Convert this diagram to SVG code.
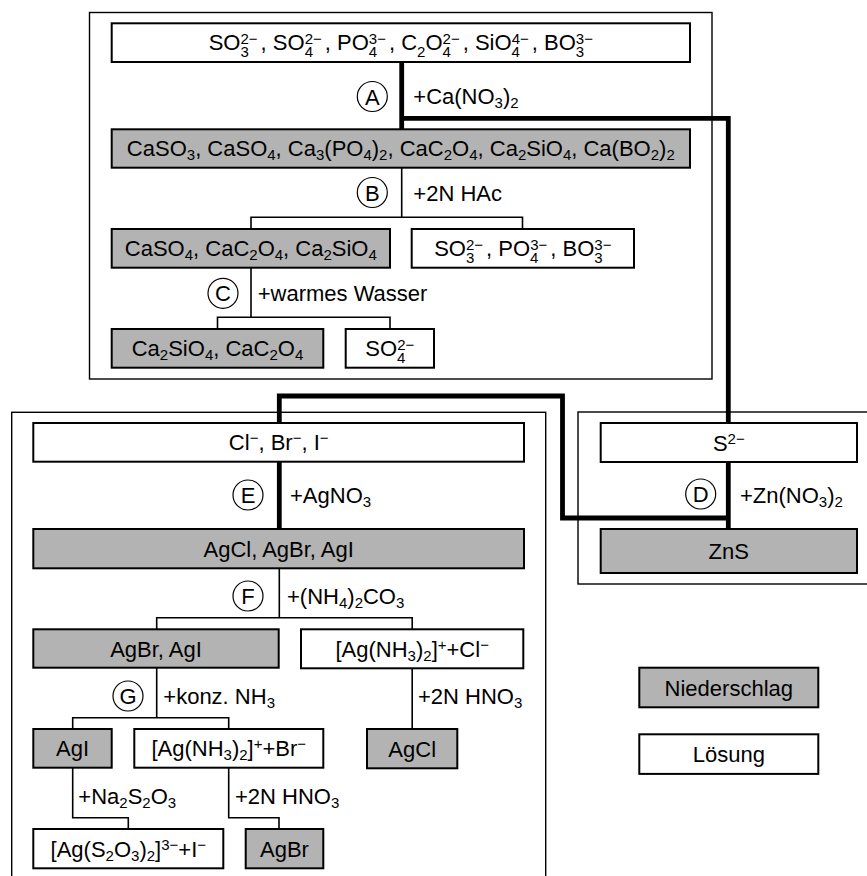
<svg xmlns="http://www.w3.org/2000/svg" width="867" height="876" viewBox="0 0 867 876">
<style>
.frame{fill:none;stroke:#000;stroke-width:1.4}
.sol{fill:#fff;stroke:#000;stroke-width:2}
.ppt{fill:#b3b3b3;stroke:#000;stroke-width:2}
.thin{fill:none;stroke:#000;stroke-width:1.6}
.thick{fill:none;stroke:#000;stroke-width:4.8;stroke-linejoin:miter;stroke-linecap:butt}
.circ{fill:#fff;stroke:#000;stroke-width:1.2}
text{font-family:"Liberation Sans",Arial,sans-serif;font-size:22px;fill:#000}
.m{text-anchor:middle}
.s{font-size:15px}
</style>
<rect width="867" height="876" fill="#fff"/>
<g id="frames">
<rect class="frame" x="89.5" y="12.5" width="622.5" height="366.5"/>
<rect class="frame" x="11.7" y="412.3" width="534" height="480"/>
<rect class="frame" x="578" y="412" width="310" height="172"/>
</g>
<g id="connectors">
<path class="thin" d="M401.7,167.7V217.3 M251,229V217.3H522.5V229"/>
<path class="thin" d="M251,267.7V317.3 M217.5,329V317.3H390V329"/>
<path class="thin" d="M279.3,568.3V617.7 M156.7,629.3V617.7H412.2V629.3"/>
<path class="thin" d="M412.2,668.3V729"/>
<path class="thin" d="M156.7,667.7V717.7 M72.7,729V717.7H228.7V729"/>
<path class="thin" d="M72.7,767.7V817.7H128.3V829"/>
<path class="thin" d="M228.7,767.7V817.7H279V829"/>
<path class="thick" d="M401.7,62V129.3"/>
<path class="thick" d="M401.7,118.3H728.3V423"/>
<path class="thick" d="M728.3,462V529"/>
<path class="thick" d="M728.3,518H562.5V396H279.3V423"/>
<path class="thick" d="M279.3,461.7V529"/>
</g>
<g id="labels">
<circle class="circ" cx="372.3" cy="96.5" r="15"/><text class="m" x="372.3" y="104.5">A</text>
<text x="413.3" y="104">+Ca(NO<tspan class="s" dy="4">3</tspan><tspan dy="-4">)</tspan><tspan class="s" dy="4">2</tspan></text>
<circle class="circ" cx="372.3" cy="192.5" r="15"/><text class="m" x="372.3" y="200.5">B</text>
<text x="413.3" y="200.5">+2N HAc</text>
<circle class="circ" cx="223" cy="293.3" r="15"/><text class="m" x="223" y="301.3">C</text>
<text x="257.7" y="301">+warmes Wasser</text>
<circle class="circ" cx="700.7" cy="494" r="15"/><text class="m" x="700.7" y="502">D</text>
<text x="740" y="502.5">+Zn(NO<tspan class="s" dy="4">3</tspan><tspan dy="-4">)</tspan><tspan class="s" dy="4">2</tspan></text>
<circle class="circ" cx="248" cy="495" r="15"/><text class="m" x="248" y="503">E</text>
<text x="290" y="503">+AgNO<tspan class="s" dy="4">3</tspan></text>
<circle class="circ" cx="248" cy="596" r="15"/><text class="m" x="248" y="604">F</text>
<text x="287" y="604">+(NH<tspan class="s" dy="4">4</tspan><tspan dy="-4">)</tspan><tspan class="s" dy="4">2</tspan><tspan dy="-4">CO</tspan><tspan class="s" dy="4">3</tspan></text>
<circle class="circ" cx="128" cy="696" r="15"/><text class="m" x="128" y="704">G</text>
<text x="163.3" y="704">+konz. NH<tspan class="s" dy="4">3</tspan></text>
<text x="418" y="704">+2N HNO<tspan class="s" dy="4">3</tspan></text>
<text x="78.3" y="804">+Na<tspan class="s" dy="4">2</tspan><tspan dy="-4">S</tspan><tspan class="s" dy="4">2</tspan><tspan dy="-4">O</tspan><tspan class="s" dy="4">3</tspan></text>
<text x="235" y="804">+2N HNO<tspan class="s" dy="4">3</tspan></text>
</g>
<g id="n_anions">
<rect class="sol" x="111.7" y="23.3" width="578.3" height="38.7"/>
<text class="m" x="400.8" y="50.3">SO<tspan class="s" dy="7">3</tspan><tspan class="s" dx="-8.3" dy="-13">2−</tspan><tspan dx="3" dy="6">, SO</tspan><tspan class="s" dy="7">4</tspan><tspan class="s" dx="-8.3" dy="-13">2−</tspan><tspan dx="3" dy="6">, PO</tspan><tspan class="s" dy="7">4</tspan><tspan class="s" dx="-8.3" dy="-13">3−</tspan><tspan dx="3" dy="6">, C</tspan><tspan class="s" dy="7">2</tspan><tspan dy="-7">O</tspan><tspan class="s" dy="7">4</tspan><tspan class="s" dx="-8.3" dy="-13">2−</tspan><tspan dx="3" dy="6">, SiO</tspan><tspan class="s" dy="7">4</tspan><tspan class="s" dx="-8.3" dy="-13">4−</tspan><tspan dx="3" dy="6">, BO</tspan><tspan class="s" dy="7">3</tspan><tspan class="s" dx="-8.3" dy="-13">3−</tspan></text>
</g>
<g id="n_ca_ppt">
<rect class="ppt" x="111.7" y="129.3" width="578.3" height="38.4"/>
<text class="m" x="400.8" y="156.3">CaSO<tspan class="s" dy="4">3</tspan><tspan dy="-4">, CaSO</tspan><tspan class="s" dy="4">4</tspan><tspan dy="-4">, Ca</tspan><tspan class="s" dy="4">3</tspan><tspan dy="-4">(PO</tspan><tspan class="s" dy="4">4</tspan><tspan dy="-4">)</tspan><tspan class="s" dy="4">2</tspan><tspan dy="-4">, CaC</tspan><tspan class="s" dy="4">2</tspan><tspan dy="-4">O</tspan><tspan class="s" dy="4">4</tspan><tspan dy="-4">, Ca</tspan><tspan class="s" dy="4">2</tspan><tspan dy="-4">SiO</tspan><tspan class="s" dy="4">4</tspan><tspan dy="-4">, Ca(BO</tspan><tspan class="s" dy="4">2</tspan><tspan dy="-4">)</tspan><tspan class="s" dy="4">2</tspan></text>
</g>
<g id="n_b_ppt">
<rect class="ppt" x="111.7" y="229" width="278.3" height="38.7"/>
<text class="m" x="250.8" y="256.3">CaSO<tspan class="s" dy="4">4</tspan><tspan dy="-4">, CaC</tspan><tspan class="s" dy="4">2</tspan><tspan dy="-4">O</tspan><tspan class="s" dy="4">4</tspan><tspan dy="-4">, Ca</tspan><tspan class="s" dy="4">2</tspan><tspan dy="-4">SiO</tspan><tspan class="s" dy="4">4</tspan></text>
</g>
<g id="n_b_sol">
<rect class="sol" x="411.7" y="229" width="222.3" height="38.7"/>
<text class="m" x="522.8" y="256.3">SO<tspan class="s" dy="7">3</tspan><tspan class="s" dx="-8.3" dy="-13">2−</tspan><tspan dx="3" dy="6">, PO</tspan><tspan class="s" dy="7">4</tspan><tspan class="s" dx="-8.3" dy="-13">3−</tspan><tspan dx="3" dy="6">, BO</tspan><tspan class="s" dy="7">3</tspan><tspan class="s" dx="-8.3" dy="-13">3−</tspan></text>
</g>
<g id="n_c_ppt">
<rect class="ppt" x="111.7" y="329" width="211.6" height="38.7"/>
<text class="m" x="217.5" y="356.3">Ca<tspan class="s" dy="4">2</tspan><tspan dy="-4">SiO</tspan><tspan class="s" dy="4">4</tspan><tspan dy="-4">, CaC</tspan><tspan class="s" dy="4">2</tspan><tspan dy="-4">O</tspan><tspan class="s" dy="4">4</tspan></text>
</g>
<g id="n_c_sol">
<rect class="sol" x="345.7" y="329" width="88.3" height="38.7"/>
<text class="m" x="389.8" y="356.3">SO<tspan class="s" dy="7">4</tspan><tspan class="s" dx="-8.3" dy="-13">2−</tspan></text>
</g>
<g id="n_halides">
<rect class="sol" x="33.3" y="423" width="490.7" height="38.7"/>
<text class="m" x="278.7" y="450.3">Cl<tspan class="s" dy="-7">−</tspan><tspan dy="7">, Br</tspan><tspan class="s" dy="-7">−</tspan><tspan dy="7">, I</tspan><tspan class="s" dy="-7">−</tspan></text>
</g>
<g id="n_agx">
<rect class="ppt" x="33.3" y="529" width="490.7" height="39.3"/>
<text class="m" x="278.7" y="556.7">AgCl, AgBr, AgI</text>
</g>
<g id="n_agbr_agi">
<rect class="ppt" x="33.3" y="629.3" width="245.4" height="38.4"/>
<text class="m" x="156" y="656.5">AgBr, AgI</text>
</g>
<g id="n_agcl_sol">
<rect class="sol" x="301" y="629.3" width="222.3" height="39"/>
<text class="m" x="412.2" y="656.5">[Ag(NH<tspan class="s" dy="4">3</tspan><tspan dy="-4">)</tspan><tspan class="s" dy="4">2</tspan><tspan dy="-4">]</tspan><tspan class="s" dy="-7">+</tspan><tspan dy="7">+Cl</tspan><tspan class="s" dy="-7">−</tspan></text>
</g>
<g id="n_agi">
<rect class="ppt" x="33.3" y="729" width="78.4" height="38.7"/>
<text class="m" x="72.5" y="756.3">AgI</text>
</g>
<g id="n_agbr_sol">
<rect class="sol" x="134.3" y="729" width="189" height="38.7"/>
<text class="m" x="228.8" y="756.3">[Ag(NH<tspan class="s" dy="4">3</tspan><tspan dy="-4">)</tspan><tspan class="s" dy="4">2</tspan><tspan dy="-4">]</tspan><tspan class="s" dy="-7">+</tspan><tspan dy="7">+Br</tspan><tspan class="s" dy="-7">−</tspan></text>
</g>
<g id="n_agcl">
<rect class="ppt" x="367" y="729" width="90.3" height="39.3"/>
<text class="m" x="412.2" y="756.6">AgCl</text>
</g>
<g id="n_thio">
<rect class="sol" x="33.3" y="829" width="190" height="39.3"/>
<text class="m" x="128.3" y="856.6">[Ag(S<tspan class="s" dy="4">2</tspan><tspan dy="-4">O</tspan><tspan class="s" dy="4">3</tspan><tspan dy="-4">)</tspan><tspan class="s" dy="4">2</tspan><tspan dy="-4">]</tspan><tspan class="s" dy="-7">3−</tspan><tspan dy="7">+I</tspan><tspan class="s" dy="-7">−</tspan></text>
</g>
<g id="n_agbr">
<rect class="ppt" x="245.7" y="829" width="77.6" height="39.3"/>
<text class="m" x="284.5" y="856.6">AgBr</text>
</g>
<g id="n_sulfide">
<rect class="sol" x="600.7" y="423" width="256.3" height="39"/>
<text class="m" x="728.8" y="450.5">S<tspan class="s" dy="-7">2−</tspan></text>
</g>
<g id="n_zns">
<rect class="ppt" x="600.7" y="529" width="256.3" height="44"/>
<text class="m" x="728.8" y="559">ZnS</text>
</g>
<g id="legend_ppt">
<rect class="ppt" x="639.3" y="667.7" width="179" height="39.6"/>
<text class="m" x="728.8" y="695.5">Niederschlag</text>
</g>
<g id="legend_sol">
<rect class="sol" x="639.3" y="734.3" width="179" height="39.6"/>
<text class="m" x="728.8" y="762">Lösung</text>
</g>
</svg>
